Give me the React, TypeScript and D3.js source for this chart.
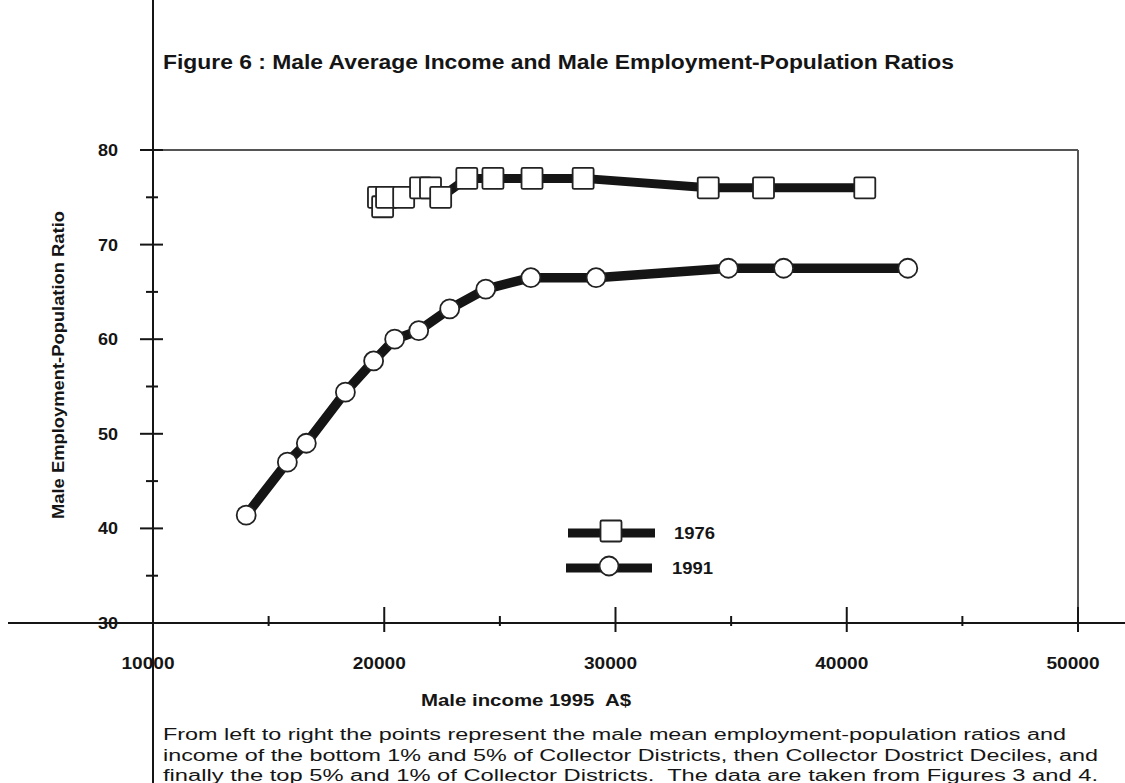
import React from "react";
import * as d3 from "d3";

const income1976 = [19750, 19930, 20100, 20840, 21570, 22000, 22440, 23570, 24700, 26390, 28600, 34010, 36400, 40780];
const ratio1976 = [75, 74, 75, 75, 76, 76, 75, 77, 77, 77, 77, 76, 76, 76];
const income1991 = [14030, 15810, 16630, 18320, 19540, 20450, 21490, 22830, 24390, 26340, 29160, 34880, 37270, 42640];
const ratio1991 = [41.4, 47.0, 49.0, 54.4, 57.7, 60.0, 60.9, 63.2, 65.3, 66.5, 66.5, 67.5, 67.5, 67.5];
const xTicks = [10000, 20000, 30000, 40000, 50000];
const xMinorTicks = [15000, 25000, 35000, 45000];
const yTicks = [30, 40, 50, 60, 70, 80];
const yMinorTicks = [35, 45, 55, 65, 75];
const seriesNames = ["1976", "1991"];
const titleText = "Figure 6 : Male Average Income and Male Employment-Population Ratios";
const xTitle = "Male income 1995  A$";
const yTitle = "Male Employment-Population Ratio";
const footnote = [
  "From left to right the points represent the male mean employment-population ratios and",
  "income of the bottom 1% and 5% of Collector Districts, then Collector Dostrict Deciles, and",
  "finally the top 5% and 1% of Collector Districts.  The data are taken from Figures 3 and 4.",
];

const W = 1125;
const H = 783;
const FONT = "'Liberation Sans', Arial, sans-serif";

export default function App() {
  const x = d3.scaleLinear().domain([10000, 50000]).range([153, 1078]);
  const y = d3.scaleLinear().domain([30, 80]).range([623, 150]);
  const line = d3.line<[number, number]>().x((d) => x(d[0])).y((d) => y(d[1]));
  const pts76: [number, number][] = income1976.map((v, i) => [v, ratio1976[i]]);
  const pts91: [number, number][] = income1991.map((v, i) => [v, ratio1991[i]]);
  const sq = 21;
  const r = 9.5;
  const ink = "#151515";

  return (
    <svg width={W} height={H} style={{ position: "absolute", left: 0, top: 0, background: "#fff" }}>
      <rect x={0} y={0} width={W} height={H} fill="#fff" />
      {/* title */}
      <text x={163} y={69} fontFamily={FONT} fontWeight="bold" fontSize={20} fill={ink}
        textLength={791} lengthAdjust="spacingAndGlyphs">{titleText}</text>

      {/* plot frame */}
      <line x1={x(10000)} x2={x(50000)} y1={y(80)} y2={y(80)} stroke="#555" strokeWidth={2} />
      <line x1={x(50000)} x2={x(50000)} y1={y(80)} y2={y(30)} stroke="#555" strokeWidth={2} />

      {/* y axis */}
      <line x1={153} x2={153} y1={0} y2={H} stroke={ink} strokeWidth={2} />
      {yTicks.map((t) => (
        <g key={"yt" + t}>
          <line x1={140} x2={163} y1={y(t)} y2={y(t)} stroke={ink} strokeWidth={2} />
          <text x={98} y={y(t) + 6} fontFamily={FONT} fontWeight="bold" fontSize={16} fill={ink}
            textLength={20} lengthAdjust="spacingAndGlyphs">{t}</text>
        </g>
      ))}
      {yMinorTicks.map((t) => (
        <line key={"ym" + t} x1={146} x2={158} y1={y(t)} y2={y(t)} stroke={ink} strokeWidth={2} />
      ))}
      <text transform={`translate(64,365) rotate(-90)`} textAnchor="middle"
        fontFamily={FONT} fontWeight="bold" fontSize={17} fill={ink}
        textLength={308} lengthAdjust="spacingAndGlyphs">{yTitle}</text>

      {/* x axis */}
      <line x1={8} x2={W} y1={y(30)} y2={y(30)} stroke={ink} strokeWidth={2} />
      {xTicks.map((t) => (
        <g key={"xt" + t}>
          {t !== 10000 && <line x1={x(t)} x2={x(t)} y1={607} y2={632} stroke={ink} strokeWidth={2} />}
          <text x={x(t) - 5} y={669} textAnchor="middle" fontFamily={FONT} fontWeight="bold" fontSize={16} fill={ink}
            textLength={53} lengthAdjust="spacingAndGlyphs">{t}</text>
        </g>
      ))}
      {xMinorTicks.map((t) => (
        <line key={"xm" + t} x1={x(t)} x2={x(t)} y1={616} y2={626} stroke={ink} strokeWidth={2} />
      ))}
      <text x={526} y={706} textAnchor="middle" fontFamily={FONT} fontWeight="bold" fontSize={16} fill={ink}
        style={{ whiteSpace: "pre" }} textLength={210} lengthAdjust="spacingAndGlyphs">{xTitle}</text>

      {/* 1976 series */}
      <path d={line(pts76) || ""} fill="none" stroke={ink} strokeWidth={9} strokeLinejoin="round" />
      {pts76.map((p, i) => (
        <rect key={"s" + i} x={x(p[0]) - sq / 2} y={y(p[1]) - sq / 2} width={sq} height={sq} rx={1.5}
          fill="#fff" stroke="#222" strokeWidth={1.8} />
      ))}

      {/* 1991 series */}
      <path d={line(pts91) || ""} fill="none" stroke="#bbb" strokeWidth={1.5} transform="translate(-4,-1)" />
      <path d={line(pts91) || ""} fill="none" stroke={ink} strokeWidth={9.5} strokeLinejoin="round" />
      {pts91.map((p, i) => (
        <circle key={"c" + i} cx={x(p[0])} cy={y(p[1])} r={r} fill="#fff" stroke="#222" strokeWidth={1.8} />
      ))}

      {/* legend */}
      <line x1={568} x2={655} y1={533} y2={533} stroke={ink} strokeWidth={9} />
      <rect x={611 - sq / 2} y={531 - sq / 2} width={sq} height={sq} rx={1.5} fill="#fff" stroke="#222" strokeWidth={1.8} />
      <text x={674} y={539} fontFamily={FONT} fontWeight="bold" fontSize={16} fill={ink}
        textLength={41} lengthAdjust="spacingAndGlyphs">{seriesNames[0]}</text>
      <line x1={566} x2={652} y1={568} y2={568} stroke={ink} strokeWidth={9} />
      <circle cx={609} cy={566} r={r} fill="#fff" stroke="#222" strokeWidth={1.8} />
      <text x={672} y={574} fontFamily={FONT} fontWeight="bold" fontSize={16} fill={ink}
        textLength={41} lengthAdjust="spacingAndGlyphs">{seriesNames[1]}</text>

      {/* footnote */}
      {footnote.map((s, i) => (
        <text key={"f" + i} x={163} y={740 + i * 20.5} fontFamily={FONT} fontSize={16} fill={ink}
          style={{ whiteSpace: "pre" }}
          textLength={[903, 935, 935][i]} lengthAdjust="spacingAndGlyphs">{s}</text>
      ))}
    </svg>
  );
}
